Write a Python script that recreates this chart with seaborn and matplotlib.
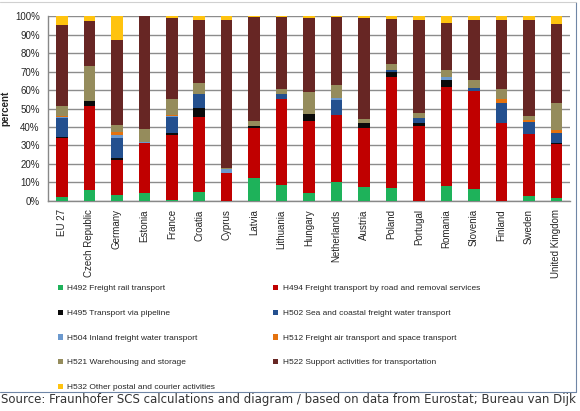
import numpy as np
import pandas as pd
import matplotlib
matplotlib.use("Agg")
import matplotlib.pyplot as plt
import seaborn as sns
from matplotlib.patches import Patch
from matplotlib.lines import Line2D

countries = ["EU 27", "Czech Republic", "Germany", "Estonia", "France", "Croatia",
             "Cyprus", "Latvia", "Lithuania", "Hungary", "Netherlands", "Austria",
             "Poland", "Portugal", "Romania", "Slovenia", "Finland", "Sweden",
             "United Kingdom"]

# shares in percent, bottom to top
h492 = [2.3, 5.8, 3.2, 4.5, 0.5, 5.0, 0.0, 12.2, 8.6, 4.1, 10.0, 7.4, 7.2, 0.0, 8.1, 6.3, 0.0, 2.7, 1.4]
h494 = [31.7, 45.8, 18.7, 26.6, 35.1, 40.5, 15.3, 27.0, 46.6, 39.2, 36.4, 32.3, 59.9, 40.8, 53.6, 53.1, 41.9, 33.3, 29.2]
h495 = [0.7, 2.5, 1.1, 0.0, 1.3, 4.9, 0.0, 1.3, 0.0, 3.5, 0.0, 2.6, 2.9, 1.1, 3.9, 0.0, 0.0, 0.0, 0.9]
h502 = [10.0, 0.0, 11.2, 0.0, 8.6, 7.5, 0.0, 0.0, 2.7, 0.0, 8.1, 0.0, 1.0, 2.7, 0.0, 1.9, 11.2, 6.8, 5.4]
h504 = [0.6, 0.0, 1.4, 0.9, 0.5, 0.0, 1.8, 0.0, 0.0, 0.0, 1.3, 0.0, 0.0, 0.0, 1.5, 0.0, 0.0, 0.0, 0.0]
h512 = [0.7, 0.0, 1.8, 0.0, 0.7, 0.0, 0.0, 0.0, 0.0, 0.4, 0.0, 0.0, 0.0, 0.0, 0.0, 0.0, 2.3, 1.2, 1.4]
h521 = [5.5, 19.0, 3.6, 6.7, 8.4, 5.9, 0.5, 2.8, 2.4, 11.8, 6.8, 1.9, 3.3, 3.1, 3.9, 4.0, 5.4, 1.9, 14.8]
h522 = [43.5, 24.3, 46.2, 61.3, 43.6, 34.2, 80.4, 56.2, 39.2, 40.1, 36.9, 54.9, 24.3, 50.3, 25.4, 32.7, 37.2, 51.8, 42.4]
h532 = [5.0, 2.6, 12.8, 0.0, 1.3, 2.0, 2.0, 0.5, 0.5, 0.9, 0.5, 0.9, 1.4, 2.0, 3.6, 2.0, 2.0, 2.3, 4.5]

series = [
    ("H492 Freight rail transport", h492, "#1EB25A"),
    ("H494 Freight transport by road and removal services", h494, "#C00000"),
    ("H495 Transport via pipeline", h495, "#0A0A0A"),
    ("H502 Sea and coastal freight water transport", h502, "#24508F"),
    ("H504 Inland freight water transport", h504, "#6B99CE"),
    ("H512 Freight air transport and space transport", h512, "#E4720E"),
    ("H521 Warehousing and storage", h521, "#958C5C"),
    ("H522 Support activities for transportation", h522, "#672624"),
    ("H532 Other postal and courier activities", h532, "#FFC30F"),
]

sns.set_style("white")
plt.rcParams["font.family"] = ["Liberation Sans", "DejaVu Sans"]

fig = plt.figure(figsize=(5.8, 4.11), dpi=100)
ax = fig.add_axes([0.083, 0.511, 0.9, 0.45])

bottom = np.zeros(len(countries))
handles = {}
for name, vals, col in series:
    df = pd.DataFrame({"country": countries, "share": vals})
    sns.barplot(data=df, x="country", y="share", order=countries, color=col,
                bottom=bottom, width=0.42, ax=ax, zorder=3, linewidth=0,
                saturation=1)
    bottom = bottom + np.array(vals)
    handles[name] = Patch(facecolor=col, edgecolor="none")

ax.set_ylim(0, 100)
ax.set_xlim(-0.5, len(countries) - 0.5)
ax.set_yticks(np.arange(0, 101, 10))
ax.set_yticklabels([f"{v}%" for v in range(0, 101, 10)], fontsize=7)
ax.set_xticks(range(len(countries)))
ax.set_xticklabels(countries, rotation=90, fontsize=7)
ax.set_xticks(np.arange(-0.5, len(countries), 1), minor=True)
ax.tick_params(axis="x", which="major", length=0, pad=6)
ax.tick_params(axis="x", which="minor", length=4, width=0.8, color="#888888", direction="out")
ax.tick_params(axis="y", length=4, width=0.8, color="#888888", direction="out", pad=2)
ax.yaxis.grid(True, color="#8c8c8c", linewidth=1, zorder=0)
ax.set_axisbelow(True)
for s in ["top", "right"]:
    ax.spines[s].set_visible(False)
for s in ["left", "bottom"]:
    ax.spines[s].set_color("#888888")
    ax.spines[s].set_linewidth(1)
ax.set_xlabel("")
ax.set_ylabel("percent", fontsize=7, fontweight="bold", labelpad=3)

order = [series[i][0] for i in [0, 2, 4, 6, 8, 1, 3, 5, 7]]
fig.legend([handles[n] for n in order], order, loc="upper left",
           bbox_to_anchor=(0.093, 0.317), ncol=2, frameon=False, fontsize=6,
           handlelength=0.6, handleheight=0.6, handletextpad=0.5,
           labelspacing=2.05, columnspacing=7.0, borderpad=0)

# surrounding frame of the original figure
fig.add_artist(Line2D([0.993, 0.993], [0.046, 0.995], transform=fig.transFigure,
                      color="#6f86a6", linewidth=0.8))
fig.add_artist(Line2D([0.0, 0.993], [0.046, 0.046], transform=fig.transFigure,
                      color="#6f86a6", linewidth=0.8))
fig.add_artist(Line2D([0.0, 0.993], [0.995, 0.995], transform=fig.transFigure,
                      color="#d0d0d0", linewidth=0.8))

fig.text(0.002, 0.027, "Source: Fraunhofer SCS calculations and diagram / based on data "
         "from Eurostat; Bureau van Dijk", fontsize=8.5, color="#333333",
         va="center", ha="left", family="DejaVu Sans")

fig.savefig("out.png", dpi=100)
